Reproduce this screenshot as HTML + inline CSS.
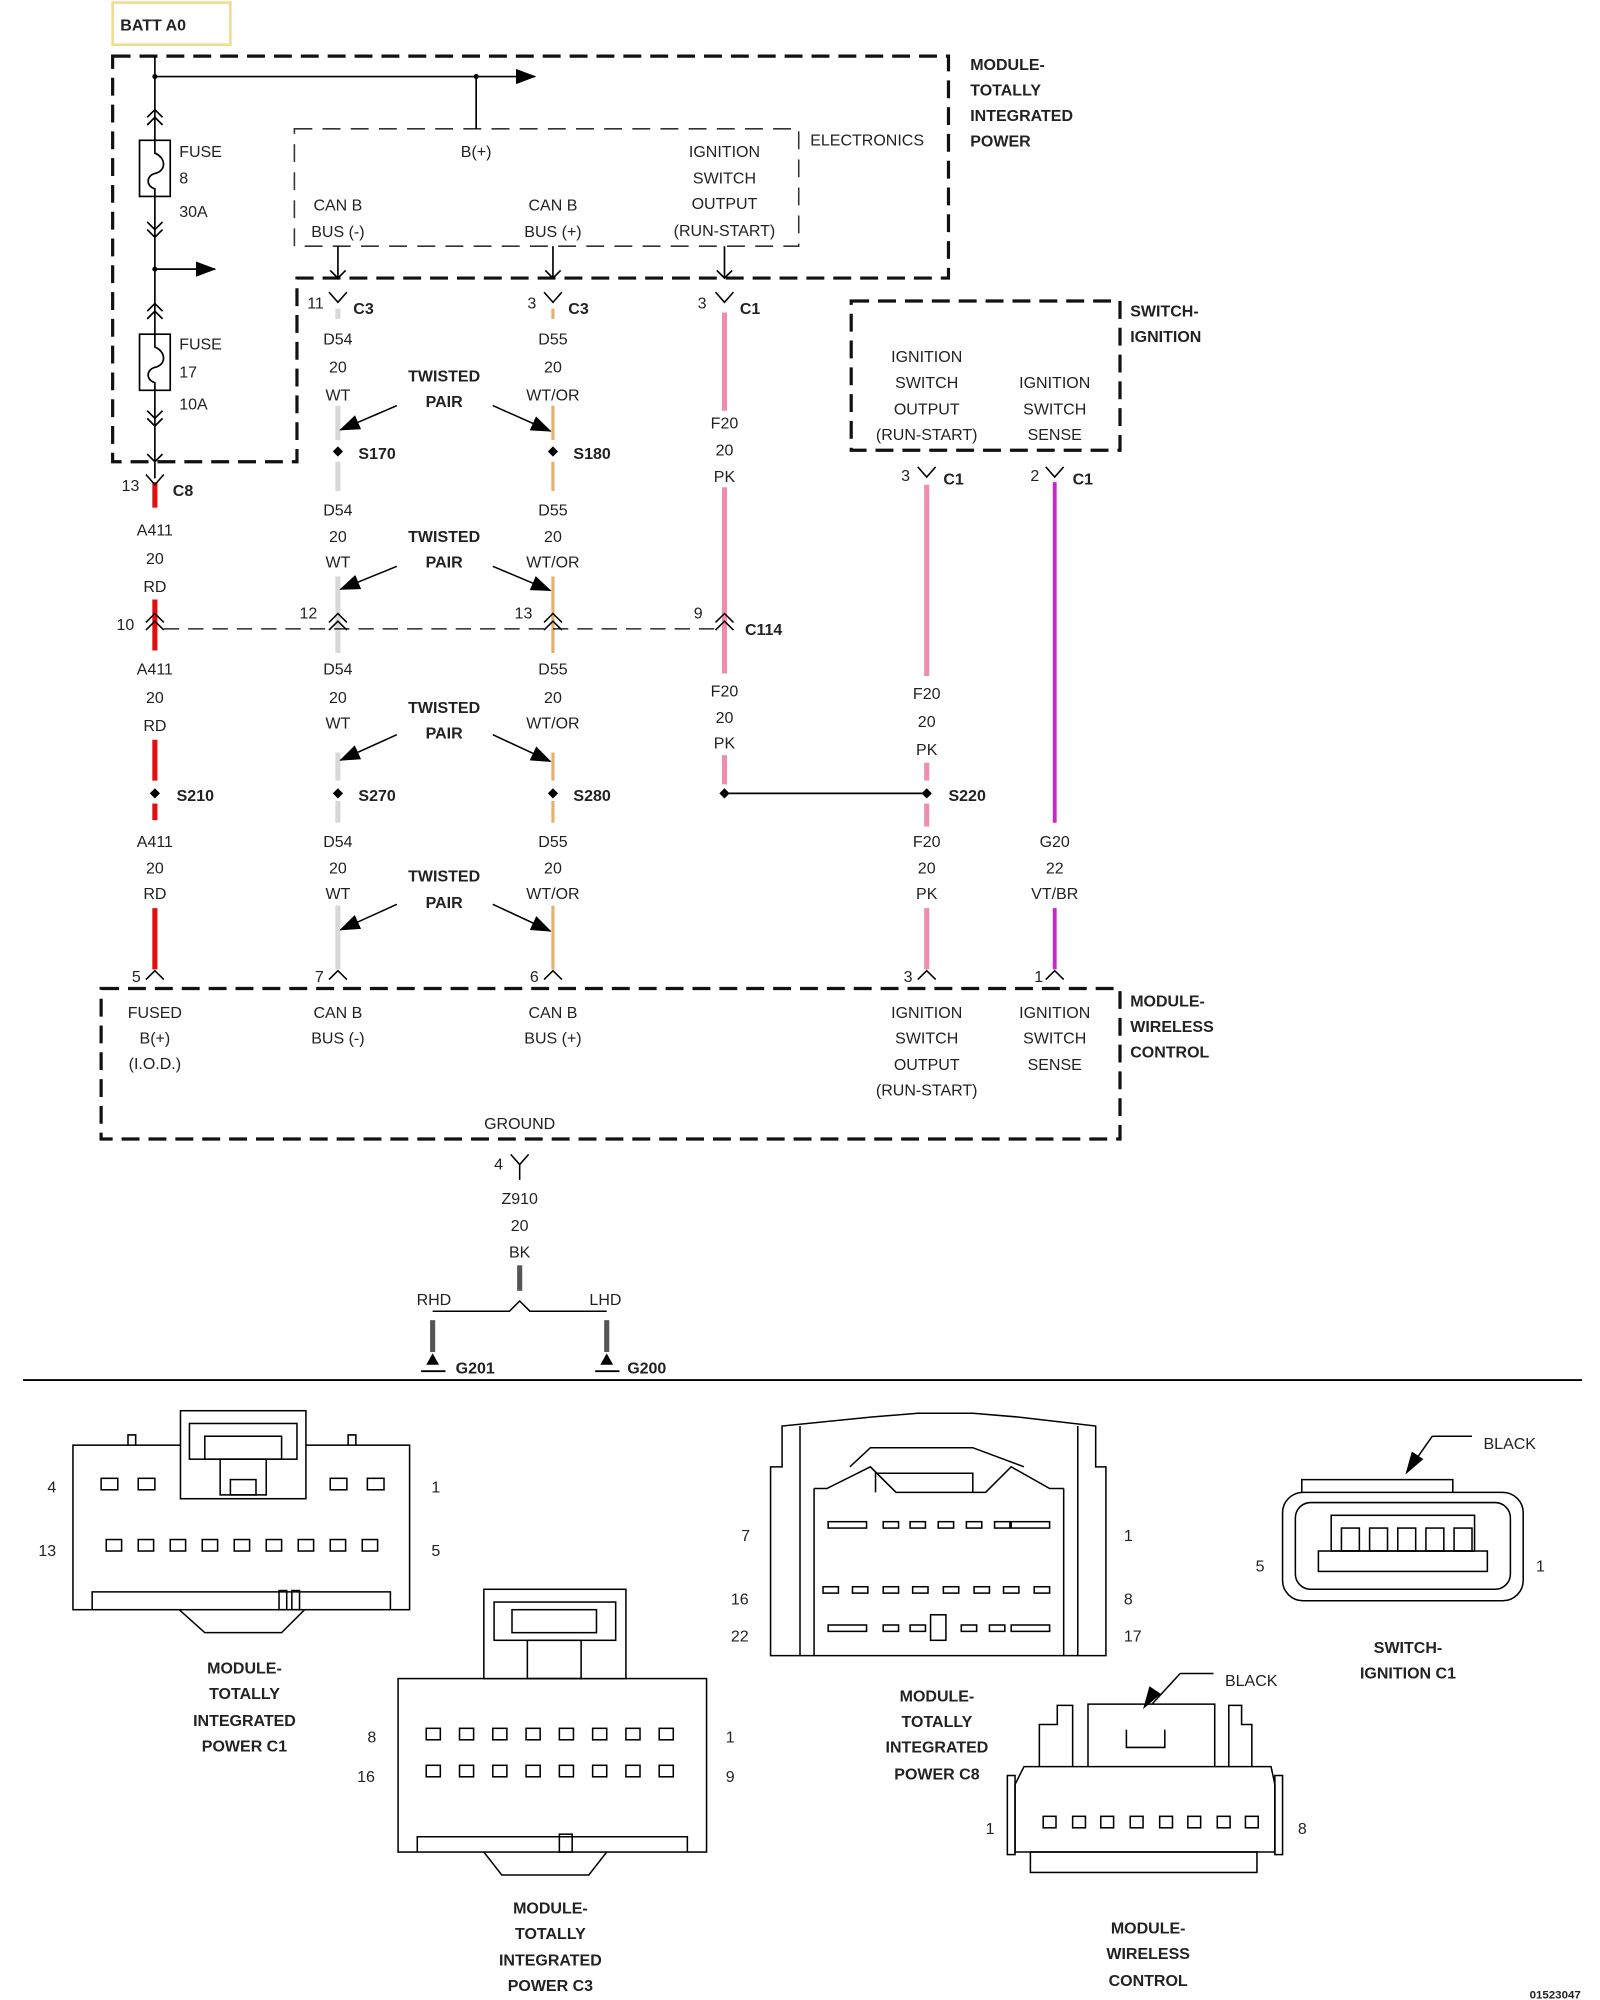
<!DOCTYPE html>
<html><head><meta charset="utf-8"><style>
html,body{margin:0;padding:0;background:#fff;}
svg{display:block;}
text{font-family:"Liberation Sans",sans-serif;font-size:12.5px;fill:#222;}
.b{font-weight:bold;}
.m{text-anchor:middle;}
</style></head><body>
<svg width="1600" height="2000" viewBox="0 0 1250 1568" preserveAspectRatio="none" xmlns="http://www.w3.org/2000/svg">
<defs>
<marker id="ah" markerWidth="10" markerHeight="8" refX="9" refY="4" orient="auto" markerUnits="userSpaceOnUse"><path d="M0,0 L10,4 L0,8 z" fill="#000"/></marker>
<marker id="ab" markerWidth="16" markerHeight="12" refX="15" refY="6" orient="auto" markerUnits="userSpaceOnUse"><path d="M0,0 L16,6 L0,12 z" fill="#000"/></marker>
</defs>
<rect width="1250" height="1568" fill="#fff"/>
<!-- BATT A0 -->
<rect x="88" y="2" width="92" height="33" fill="none" stroke="#f0dc90" stroke-width="2"/>
<text x="94" y="24" class="b">BATT A0</text>
<!-- big dashed module -->
<path d="M88,44 H741 V218 H232 V362 H88 Z" fill="none" stroke="#111" stroke-width="2.5" stroke-dasharray="14,7"/>
<text x="758" y="55" class="b">MODULE-</text><text x="758" y="75" class="b">TOTALLY</text><text x="758" y="95" class="b">INTEGRATED</text><text x="758" y="115" class="b">POWER</text>
<!-- electronics box -->
<path d="M230,101 H624 V193 H230 Z" fill="none" stroke="#333" stroke-width="1.2" stroke-dasharray="14,8"/>
<text x="633" y="114">ELECTRONICS</text>
<text x="372" y="123" class="m">B(+)</text>
<text x="566" y="123" class="m">IGNITION</text><text x="566" y="144" class="m">SWITCH</text><text x="566" y="164" class="m">OUTPUT</text><text x="566" y="185" class="m">(RUN-START)</text>
<text x="264" y="165" class="m">CAN B</text><text x="264" y="186" class="m">BUS (-)</text>
<text x="432" y="165" class="m">CAN B</text><text x="432" y="186" class="m">BUS (+)</text>
<!-- power lines -->
<g stroke="#000" stroke-width="1.3" fill="none">
<line x1="121" y1="44" x2="121" y2="375"/>
<line x1="121" y1="60" x2="418" y2="60" marker-end="url(#ab)"/>
<line x1="372" y1="60" x2="372" y2="101"/>
<line x1="121" y1="211" x2="168" y2="211" marker-end="url(#ab)"/>
<rect x="109" y="110" width="24" height="44" fill="#fff"/>
<path d="M121,110 V120 C130,124 130,134 121,136 C114,138 114,146 121,148 V154"/>
<rect x="109" y="262" width="24" height="44" fill="#fff"/>
<path d="M121,262 V272 C130,276 130,286 121,288 C114,290 114,298 121,300 V306"/>
<path d="M115,92 L121,86 L127,92 M115,98 L121,92 L127,98"/>
<path d="M115,174 L121,180 L127,174 M115,180 L121,186 L127,180"/>
<path d="M115,244 L121,238 L127,244 M115,250 L121,244 L127,250"/>
<path d="M115,322 L121,328 L127,322 M115,328 L121,334 L127,328"/>
<path d="M115,356 L121,362 L127,356"/>
<!-- pins into connector -->
<line x1="264" y1="207" x2="264" y2="218"/><path d="M258,212 L264,218 L270,212"/>
<line x1="432" y1="193" x2="432" y2="218"/><path d="M426,212 L432,218 L438,212"/>
<line x1="566" y1="193" x2="566" y2="218"/><path d="M560,212 L566,218 L572,212"/>
<line x1="264" y1="193" x2="264" y2="207"/>
</g>
<circle cx="121" cy="60" r="2" /><circle cx="372" cy="60" r="2"/><circle cx="121" cy="211" r="2"/>
<text x="140" y="123">FUSE</text><text x="140" y="144">8</text><text x="140" y="170">30A</text>
<text x="140" y="274">FUSE</text><text x="140" y="296">17</text><text x="140" y="321">10A</text>
<!-- colored wires -->
<g stroke-width="4" fill="none">
<g stroke="#e01010"><line x1="121" y1="378" x2="121" y2="398"/><line x1="121" y1="470" x2="121" y2="510"/><line x1="121" y1="580" x2="121" y2="612"/><line x1="121" y1="630" x2="121" y2="643"/><line x1="121" y1="712" x2="121" y2="760"/></g>
<g stroke="#d8d8d8"><line x1="264" y1="242" x2="264" y2="250"/><line x1="264" y1="318" x2="264" y2="345"/><line x1="264" y1="362" x2="264" y2="385"/><line x1="264" y1="452" x2="264" y2="512"/><line x1="264" y1="590" x2="264" y2="612"/><line x1="264" y1="628" x2="264" y2="645"/><line x1="264" y1="710" x2="264" y2="760"/></g>
<g stroke="#e6b070" stroke-width="2.5"><line x1="432" y1="242" x2="432" y2="250"/><line x1="432" y1="318" x2="432" y2="345"/><line x1="432" y1="362" x2="432" y2="385"/><line x1="432" y1="452" x2="432" y2="512"/><line x1="432" y1="590" x2="432" y2="612"/><line x1="432" y1="628" x2="432" y2="645"/><line x1="432" y1="710" x2="432" y2="760"/></g>
<g stroke="#f08cb0"><line x1="566" y1="245" x2="566" y2="322"/><line x1="566" y1="382" x2="566" y2="528"/><line x1="566" y1="592" x2="566" y2="615"/><line x1="724" y1="380" x2="724" y2="530"/><line x1="724" y1="598" x2="724" y2="612"/><line x1="724" y1="630" x2="724" y2="648"/><line x1="724" y1="712" x2="724" y2="760"/></g>
<g stroke="#d020d0" stroke-width="3"><line x1="824" y1="378" x2="824" y2="645"/><line x1="824" y1="712" x2="824" y2="760"/></g>
<g stroke="#555"><line x1="406" y1="992" x2="406" y2="1012"/><line x1="338" y1="1035" x2="338" y2="1060"/><line x1="474" y1="1035" x2="474" y2="1060"/></g>
</g>
<!-- Y connectors -->
<g stroke="#000" stroke-width="1.2" fill="none">
<path d="M114,372 L121,380 L128,372"/>
<path d="M257,229 L264,237 L271,229"/>
<path d="M425,229 L432,237 L439,229"/>
<path d="M559,229 L566,237 L573,229"/>
<path d="M717,366 L724,374 L731,366"/>
<path d="M817,366 L824,374 L831,366"/>
<path d="M399,905 L406,913 L413,905 M406,913 V925"/>
<!-- C114 chevrons -->
<path d="M114,488 L121,481 L128,488 M114,494 L121,487 L128,494"/>
<path d="M257,488 L264,481 L271,488 M257,494 L264,487 L271,494"/>
<path d="M425,488 L432,481 L439,488 M425,494 L432,487 L439,494"/>
<path d="M559,488 L566,481 L573,488 M559,494 L566,487 L573,494"/>
<line x1="128" y1="493" x2="559" y2="493" stroke-dasharray="12,7" stroke-width="1"/>
<!-- bottom pins -->
<path d="M114,768 L121,761 L128,768"/><path d="M257,768 L264,761 L271,768"/><path d="M425,768 L432,761 L439,768"/><path d="M717,768 L724,761 L731,768"/><path d="M817,768 L824,761 L831,768"/>
<!-- twisted pair arrows -->
<line x1="310" y1="318" x2="266" y2="337" marker-end="url(#ab)"/><line x1="385" y1="318" x2="430" y2="338" marker-end="url(#ab)"/>
<line x1="310" y1="444" x2="266" y2="462" marker-end="url(#ab)"/><line x1="385" y1="444" x2="430" y2="463" marker-end="url(#ab)"/>
<line x1="310" y1="576" x2="266" y2="596" marker-end="url(#ab)"/><line x1="385" y1="576" x2="430" y2="597" marker-end="url(#ab)"/>
<line x1="310" y1="709" x2="266" y2="729" marker-end="url(#ab)"/><line x1="385" y1="709" x2="430" y2="730" marker-end="url(#ab)"/>
<line x1="566" y1="622" x2="724" y2="622" stroke-width="1.3"/>
<!-- ground -->
<path d="M338,1028 H398 L406,1020 L414,1028 H474" />
<line x1="329" y1="1075" x2="348" y2="1075" stroke-width="1.5"/><line x1="465" y1="1075" x2="484" y2="1075" stroke-width="1.5"/>
</g>
<g fill="#000">
<path d="M338,1061 L333,1070 H343 Z"/><path d="M474,1061 L469,1070 H479 Z"/>
<path d="M264,350 l4,4 l-4,4 l-4,-4z"/><path d="M432,350 l4,4 l-4,4 l-4,-4z"/>
<path d="M121,618 l4,4 l-4,4 l-4,-4z"/><path d="M264,618 l4,4 l-4,4 l-4,-4z"/><path d="M432,618 l4,4 l-4,4 l-4,-4z"/><path d="M566,618 l4,4 l-4,4 l-4,-4z"/><path d="M724,618 l4,4 l-4,4 l-4,-4z"/>
</g>
<!-- labels -->
<text x="240" y="242">11</text><text x="276" y="246" class="b">C3</text>
<text x="412" y="242">3</text><text x="444" y="246" class="b">C3</text>
<text x="545" y="242">3</text><text x="578" y="246" class="b">C1</text>
<text x="95" y="385">13</text><text x="135" y="389" class="b">C8</text>
<g class="m">
<text x="264" y="270" class="m">D54</text><text x="264" y="292" class="m">20</text><text x="264" y="314" class="m">WT</text>
<text x="432" y="270" class="m">D55</text><text x="432" y="292" class="m">20</text><text x="432" y="314" class="m">WT/OR</text>
<text x="264" y="404" class="m">D54</text><text x="264" y="425" class="m">20</text><text x="264" y="445" class="m">WT</text>
<text x="432" y="404" class="m">D55</text><text x="432" y="425" class="m">20</text><text x="432" y="445" class="m">WT/OR</text>
<text x="264" y="529" class="m">D54</text><text x="264" y="551" class="m">20</text><text x="264" y="571" class="m">WT</text>
<text x="432" y="529" class="m">D55</text><text x="432" y="551" class="m">20</text><text x="432" y="571" class="m">WT/OR</text>
<text x="264" y="664" class="m">D54</text><text x="264" y="685" class="m">20</text><text x="264" y="705" class="m">WT</text>
<text x="432" y="664" class="m">D55</text><text x="432" y="685" class="m">20</text><text x="432" y="705" class="m">WT/OR</text>
<text x="121" y="420" class="m">A411</text><text x="121" y="442" class="m">20</text><text x="121" y="464" class="m">RD</text>
<text x="121" y="529" class="m">A411</text><text x="121" y="551" class="m">20</text><text x="121" y="573" class="m">RD</text>
<text x="121" y="664" class="m">A411</text><text x="121" y="685" class="m">20</text><text x="121" y="705" class="m">RD</text>
<text x="566" y="336" class="m">F20</text><text x="566" y="357" class="m">20</text><text x="566" y="378" class="m">PK</text>
<text x="566" y="546" class="m">F20</text><text x="566" y="567" class="m">20</text><text x="566" y="587" class="m">PK</text>
<text x="724" y="548" class="m">F20</text><text x="724" y="570" class="m">20</text><text x="724" y="592" class="m">PK</text>
<text x="724" y="664" class="m">F20</text><text x="724" y="685" class="m">20</text><text x="724" y="705" class="m">PK</text>
<text x="824" y="664" class="m">G20</text><text x="824" y="685" class="m">22</text><text x="824" y="705" class="m">VT/BR</text>
<text x="347" y="299" class="m b">TWISTED</text><text x="347" y="319" class="m b">PAIR</text>
<text x="347" y="425" class="m b">TWISTED</text><text x="347" y="445" class="m b">PAIR</text>
<text x="347" y="559" class="m b">TWISTED</text><text x="347" y="579" class="m b">PAIR</text>
<text x="347" y="691" class="m b">TWISTED</text><text x="347" y="712" class="m b">PAIR</text>
</g>
<text x="280" y="360" class="b">S170</text><text x="448" y="360" class="b">S180</text>
<text x="138" y="628" class="b">S210</text><text x="280" y="628" class="b">S270</text><text x="448" y="628" class="b">S280</text><text x="741" y="628" class="b">S220</text>
<text x="91" y="494">10</text><text x="234" y="485">12</text><text x="402" y="485">13</text><text x="542" y="485">9</text><text x="582" y="498" class="b">C114</text>
<!-- switch ignition -->
<path d="M665,236 H875 V353 H665 Z" fill="none" stroke="#111" stroke-width="2.5" stroke-dasharray="14,7"/>
<text x="883" y="248" class="b">SWITCH-</text><text x="883" y="268" class="b">IGNITION</text>
<g class="m">
<text x="724" y="284" class="m">IGNITION</text><text x="724" y="304" class="m">SWITCH</text><text x="724" y="325" class="m">OUTPUT</text><text x="724" y="345" class="m">(RUN-START)</text>
<text x="824" y="304" class="m">IGNITION</text><text x="824" y="325" class="m">SWITCH</text><text x="824" y="345" class="m">SENSE</text>
</g>
<text x="704" y="377">3</text><text x="737" y="380" class="b">C1</text><text x="805" y="377">2</text><text x="838" y="380" class="b">C1</text>
<!-- wireless module -->
<path d="M79,775 H875 V893 H79 Z" fill="none" stroke="#111" stroke-width="2.5" stroke-dasharray="14,7"/>
<text x="883" y="789" class="b">MODULE-</text><text x="883" y="809" class="b">WIRELESS</text><text x="883" y="829" class="b">CONTROL</text>
<text x="103" y="770">5</text><text x="246" y="770">7</text><text x="414" y="770">6</text><text x="706" y="770">3</text><text x="808" y="770">1</text>
<g>
<text x="121" y="798" class="m">FUSED</text><text x="121" y="818" class="m">B(+)</text><text x="121" y="838" class="m">(I.O.D.)</text>
<text x="264" y="798" class="m">CAN B</text><text x="264" y="818" class="m">BUS (-)</text>
<text x="432" y="798" class="m">CAN B</text><text x="432" y="818" class="m">BUS (+)</text>
<text x="724" y="798" class="m">IGNITION</text><text x="724" y="818" class="m">SWITCH</text><text x="724" y="839" class="m">OUTPUT</text><text x="724" y="859" class="m">(RUN-START)</text>
<text x="824" y="798" class="m">IGNITION</text><text x="824" y="818" class="m">SWITCH</text><text x="824" y="839" class="m">SENSE</text>
<text x="406" y="885" class="m">GROUND</text>
<text x="406" y="944" class="m">Z910</text><text x="406" y="965" class="m">20</text><text x="406" y="986" class="m">BK</text>
<text x="339" y="1023" class="m">RHD</text><text x="473" y="1023" class="m">LHD</text>
</g>
<text x="386" y="917">4</text>
<text x="356" y="1077" class="b">G201</text><text x="490" y="1077" class="b">G200</text>
<line x1="18" y1="1082" x2="1236" y2="1082" stroke="#000" stroke-width="1.5"/>
<!-- connector drawings -->
<g stroke="#000" stroke-width="1.2" fill="none">
<!-- TIP C1 -->
<rect x="57" y="1133" width="263" height="129"/>
<rect x="141" y="1106" width="98" height="69" fill="#fff"/>
<rect x="148" y="1116" width="84" height="28"/><rect x="160" y="1126" width="60" height="18"/>
<rect x="172" y="1144" width="36" height="28"/><rect x="180" y="1160" width="20" height="12"/>
<path d="M72,1262 V1248 H305 V1262"/><rect x="218" y="1247" width="6" height="15"/><rect x="228" y="1247" width="6" height="15"/>
<path d="M140,1262 L160,1280 H220 L238,1262"/>
<path d="M100,1133 V1125 H106 V1133 M272,1133 V1125 H278 V1133"/>
<rect x="79" y="1159" width="13" height="9"/><rect x="108" y="1159" width="13" height="9"/><rect x="258" y="1159" width="13" height="9"/><rect x="287" y="1159" width="13" height="9"/>
<rect x="83" y="1207" width="12" height="9"/><rect x="108" y="1207" width="12" height="9"/><rect x="133" y="1207" width="12" height="9"/><rect x="158" y="1207" width="12" height="9"/><rect x="183" y="1207" width="12" height="9"/><rect x="208" y="1207" width="12" height="9"/><rect x="233" y="1207" width="12" height="9"/><rect x="258" y="1207" width="12" height="9"/><rect x="283" y="1207" width="12" height="9"/>
<!-- TIP C3 -->
<rect x="311" y="1316" width="241" height="136"/>
<rect x="378" y="1246" width="111" height="70" fill="#fff"/>
<rect x="386" y="1256" width="95" height="30"/><rect x="400" y="1262" width="66" height="18"/>
<rect x="412" y="1286" width="42" height="30"/>
<path d="M326,1452 V1440 H537 V1452"/><rect x="437" y="1438" width="10" height="14"/>
<path d="M378,1452 L392,1470 H460 L474,1452"/>
<rect x="333" y="1355" width="11" height="9"/><rect x="359" y="1355" width="11" height="9"/><rect x="385" y="1355" width="11" height="9"/><rect x="411" y="1355" width="11" height="9"/><rect x="437" y="1355" width="11" height="9"/><rect x="463" y="1355" width="11" height="9"/><rect x="489" y="1355" width="11" height="9"/><rect x="515" y="1355" width="11" height="9"/>
<rect x="333" y="1384" width="11" height="9"/><rect x="359" y="1384" width="11" height="9"/><rect x="385" y="1384" width="11" height="9"/><rect x="411" y="1384" width="11" height="9"/><rect x="437" y="1384" width="11" height="9"/><rect x="463" y="1384" width="11" height="9"/><rect x="489" y="1384" width="11" height="9"/><rect x="515" y="1384" width="11" height="9"/>
<!-- TIP C8 -->
<path d="M602,1298 V1150 H611 V1118 L680,1111 L717,1108 H760 L796,1111 L856,1118 V1150 H864 V1298 Z"/>
<line x1="625" y1="1118" x2="625" y2="1298"/><line x1="842" y1="1118" x2="842" y2="1298"/>
<line x1="636" y1="1167" x2="636" y2="1298"/><line x1="831" y1="1167" x2="831" y2="1298"/>
<path d="M636,1167 H646 L680,1150 L700,1170 H770 L790,1150 L820,1167 H831"/>
<path d="M664,1150 L680,1135 L760,1135 L800,1150"/>
<path d="M684,1170 V1155 H760 V1170"/>
<rect x="647" y="1193" width="30" height="5"/><rect x="690" y="1193" width="12" height="5"/><rect x="711" y="1193" width="12" height="5"/><rect x="733" y="1193" width="12" height="5"/><rect x="755" y="1193" width="12" height="5"/><rect x="777" y="1193" width="12" height="5"/><rect x="790" y="1193" width="30" height="5"/>
<rect x="643" y="1244" width="12" height="5"/><rect x="666" y="1244" width="12" height="5"/><rect x="690" y="1244" width="12" height="5"/><rect x="713" y="1244" width="12" height="5"/><rect x="737" y="1244" width="12" height="5"/><rect x="761" y="1244" width="12" height="5"/><rect x="784" y="1244" width="12" height="5"/><rect x="808" y="1244" width="12" height="5"/>
<rect x="647" y="1274" width="30" height="5"/><rect x="690" y="1274" width="12" height="5"/><rect x="711" y="1274" width="12" height="5"/><rect x="727" y="1266" width="12" height="20"/><rect x="751" y="1274" width="12" height="5"/><rect x="773" y="1274" width="12" height="5"/><rect x="790" y="1274" width="30" height="5"/>
<!-- SWITCH C1 -->
<rect x="1002" y="1170" width="188" height="85" rx="16"/>
<rect x="1012" y="1178" width="168" height="68" rx="12"/>
<path d="M1017,1170 V1160 H1135 V1170"/>
<rect x="1040" y="1188" width="112" height="28"/>
<rect x="1048" y="1198" width="14" height="18"/><rect x="1070" y="1198" width="14" height="18"/><rect x="1092" y="1198" width="14" height="18"/><rect x="1114" y="1198" width="14" height="18"/><rect x="1136" y="1198" width="14" height="18"/>
<rect x="1030" y="1216" width="132" height="16"/>
<path d="M1119,1126 H1150 M1119,1126 L1105,1146"/>
<!-- WIRELESS -->
<path d="M793,1399 L800,1385 H993 L996,1399 V1452 H793 Z"/>
<rect x="787" y="1392" width="6" height="62"/><rect x="996" y="1392" width="6" height="62"/>
<path d="M812,1385 V1352 H826 V1337 H838 V1385 M850,1385 V1336 H949 V1385 M960,1385 V1337 H970 V1352 H978 V1385"/>
<path d="M880,1356 V1370 H910 V1356"/>
<rect x="805" y="1452" width="177" height="16"/>
<rect x="815" y="1424" width="10" height="9"/><rect x="838" y="1424" width="10" height="9"/><rect x="860" y="1424" width="10" height="9"/><rect x="883" y="1424" width="10" height="9"/><rect x="906" y="1424" width="10" height="9"/><rect x="928" y="1424" width="10" height="9"/><rect x="951" y="1424" width="10" height="9"/><rect x="973" y="1424" width="10" height="9"/>
<path d="M922,1312 H948 M922,1312 L900,1336"/>
</g>
<path d="M1098,1156 L1103,1138 L1112,1144 Z" fill="#000"/>
<path d="M893,1340 L898,1322 L907,1328 Z" fill="#000"/>
<text x="37" y="1170">4</text><text x="337" y="1170">1</text><text x="30" y="1220">13</text><text x="337" y="1220">5</text>
<text x="191" y="1312" class="m b">MODULE-</text><text x="191" y="1332" class="m b">TOTALLY</text><text x="191" y="1353" class="m b">INTEGRATED</text><text x="191" y="1373" class="m b">POWER C1</text>
<text x="287" y="1366">8</text><text x="279" y="1397">16</text><text x="567" y="1366">1</text><text x="567" y="1397">9</text>
<text x="430" y="1500" class="m b">MODULE-</text><text x="430" y="1520" class="m b">TOTALLY</text><text x="430" y="1541" class="m b">INTEGRATED</text><text x="430" y="1561" class="m b">POWER C3</text>
<text x="579" y="1208">7</text><text x="878" y="1208">1</text><text x="571" y="1258">16</text><text x="878" y="1258">8</text><text x="571" y="1287">22</text><text x="878" y="1287">17</text>
<text x="732" y="1334" class="m b">MODULE-</text><text x="732" y="1354" class="m b">TOTALLY</text><text x="732" y="1374" class="m b">INTEGRATED</text><text x="732" y="1395" class="m b">POWER C8</text>
<text x="1159" y="1136">BLACK</text>
<text x="981" y="1232">5</text><text x="1200" y="1232">1</text>
<text x="1100" y="1296" class="m b">SWITCH-</text><text x="1100" y="1316" class="m b">IGNITION C1</text>
<text x="957" y="1322">BLACK</text>
<text x="770" y="1438">1</text><text x="1014" y="1438">8</text>
<text x="897" y="1516" class="m b">MODULE-</text><text x="897" y="1536" class="m b">WIRELESS</text><text x="897" y="1557" class="m b">CONTROL</text>
<text x="1195" y="1567" class="b" style="font-size:9px">01523047</text>
</svg>
</body></html>
